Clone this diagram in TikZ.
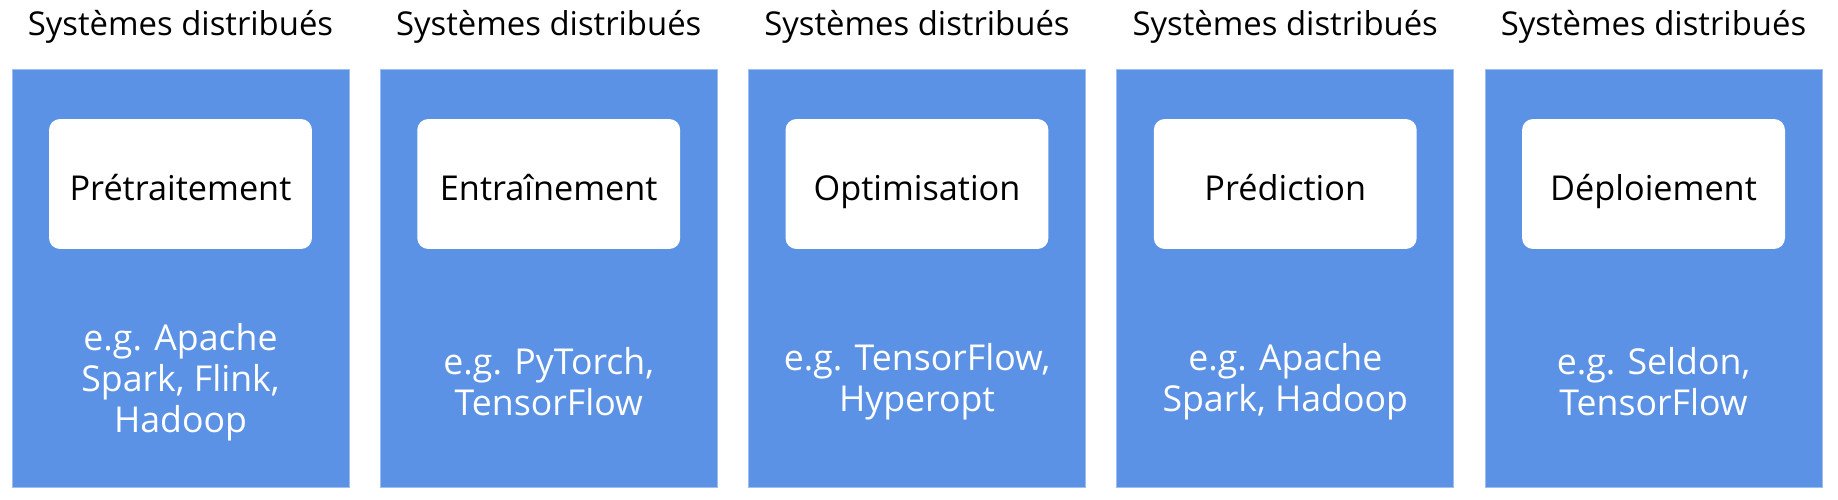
\documentclass[tikz,border=0pt]{standalone}
\usepackage{fontspec}
\setmainfont{Open Sans}
\definecolor{columnblue}{HTML}{5B92E5}
\begin{document}
\begin{tikzpicture}
[x=0.02cm,y=-0.02cm,
  columndecorate/.style={shape=rectangle,fill=columnblue,draw=columnblue!60!white,
    line width=0.4pt,minimum width=6.74cm,minimum height=8.36cm,inner sep=0pt},%
  stepdecorate/.style={shape=rectangle,fill=white,rounded corners=0.22cm,
    minimum width=5.26cm,minimum height=2.6cm,inner sep=0pt,
    text height=18.5pt,text depth=0pt,font=\fontsize{19.5}{23}\selectfont},%
  titledecorate/.style={inner sep=0pt,font=\fontsize{18.7}{23}\selectfont},%
  tooldecorate/.style={inner sep=0pt,align=center,text=white,
    font=\fontsize{20.3}{23.4}\selectfont}]
\useasboundingbox (0,0) rectangle (1838,500);
%% columns, steps and tools
\foreach \n/\x/\stepname/\tools in {1/180.5/Prétraitement/{e.g. Apache\\Spark, Flink,\\Hadoop},
  2/548.75/Entraînement/{e.g. PyTorch,\\TensorFlow},
  3/917/Optimisation/{e.g. TensorFlow,\\Hyperopt},
  4/1285.25/Prédiction/{e.g. Apache\\Spark, Hadoop},
  5/1653.5/Déploiement/{e.g. Seldon,\\TensorFlow}} {
  \node (title\n) at (\x,27) [titledecorate] {Systèmes distribués};
  \node (column\n) at (\x,278) [columndecorate] {};
  \node (step\n) at (\x,184) [stepdecorate] {\stepname};
  \node (tools\n) at (\x,382) [tooldecorate] {\tools};
}
\end{tikzpicture}
\end{document}
